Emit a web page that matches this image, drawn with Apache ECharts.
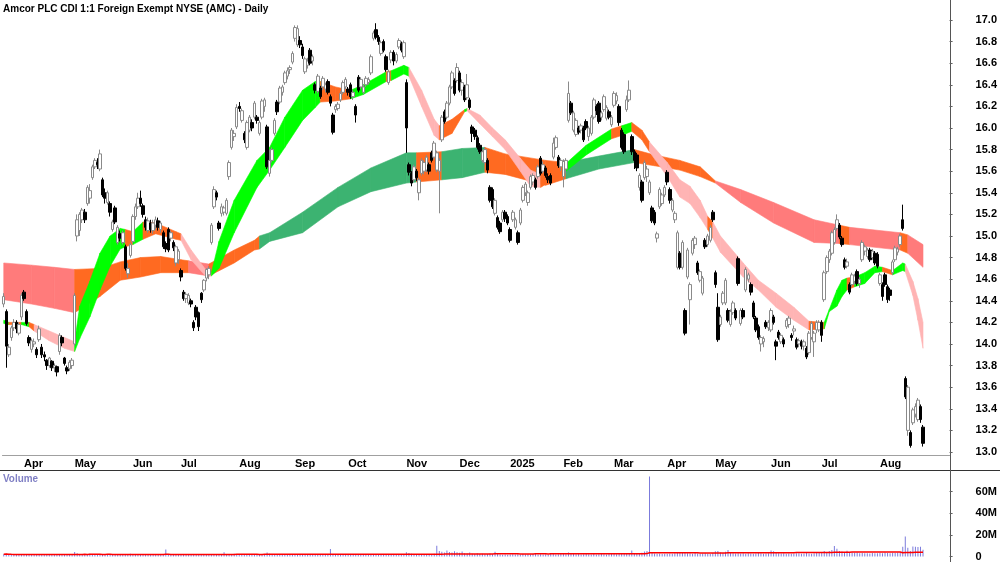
<!DOCTYPE html>
<html lang="en">
  <head>
    <meta charset="UTF-8" />
    <title>Amcor PLC CDI - Daily</title>
    <style>
      html,
      body {
        margin: 0;
        padding: 0;
        background: #fff;
      }
      #main {
        width: 1000px;
        height: 562px;
      }
    </style>
  </head>
  <body>
    <div id="main"></div>
    <script src="https://cdn.jsdelivr.net/npm/echarts@6.0.0/dist/echarts.min.js"></script>

    <script>
      // daily bars per month: [open, close, low, high]
      const mar24 = [
        [14.37, 14.44, 14.34, 14.47], [14.3, 13.98, 13.78, 14.32], [13.9, 13.97, 13.88, 14.0], [14.06, 14.15, 14.03, 14.17],
        [14.15, 14.2, 14.12, 14.23], [14.2, 14.14, 14.1, 14.22], [14.1, 14.18, 14.08, 14.2], [14.25, 14.45, 14.22, 14.47],
      ];
      const apr24 = [
        [14.48, 14.42, 14.4, 14.5], [14.3, 14.19, 14.17, 14.32], [14.06, 14.01, 13.98, 14.08], [13.95, 14.03, 13.92, 14.05],
        [14.0, 14.02, 13.97, 14.05], [13.95, 13.9, 13.87, 13.97], [14.04, 14.14, 14.02, 14.17], [13.97, 13.9, 13.87, 14.0],
        [13.9, 13.88, 13.84, 13.93], [13.85, 13.8, 13.76, 13.86], [13.8, 13.87, 13.78, 13.88], [13.84, 13.78, 13.75, 13.85],
        [13.78, 13.8, 13.74, 13.82], [13.79, 13.74, 13.7, 13.8], [13.93, 14.08, 13.9, 14.1], [14.06, 14.01, 13.98, 14.08],
        [13.87, 13.82, 13.8, 13.88], [13.78, 13.75, 13.72, 13.8], [13.77, 13.83, 13.75, 13.85], [13.8, 13.85, 13.77, 13.87],
      ];
      const may24 = [
        [14.0, 14.45, 13.98, 14.47], [15.0, 15.15, 14.95, 15.2], [15.05, 15.2, 15.0, 15.22], [15.15, 15.24, 15.12, 15.26],
        [15.22, 15.15, 15.12, 15.25], [15.3, 15.45, 15.28, 15.47], [15.35, 15.42, 15.3, 15.48], [15.54, 15.64, 15.52, 15.66],
        [15.64, 15.7, 15.62, 15.72], [15.68, 15.66, 15.62, 15.72], [15.62, 15.76, 15.6, 15.8], [15.52, 15.38, 15.36, 15.54],
        [15.4, 15.35, 15.3, 15.44], [15.31, 15.4, 15.29, 15.42], [15.3, 15.22, 15.18, 15.32], [15.06, 15.13, 15.04, 15.15],
        [15.26, 15.13, 15.11, 15.28], [14.94, 15.08, 14.92, 15.1], [15.02, 14.98, 14.95, 15.05], [14.94, 15.03, 14.92, 15.05],
        [14.9, 14.7, 14.68, 14.92], [14.65, 14.7, 14.61, 14.75], [14.82, 14.92, 14.8, 14.94],
      ];
      const jun24 = [
        [14.95, 15.18, 14.93, 15.2], [15.18, 15.27, 15.15, 15.3], [15.27, 15.35, 15.25, 15.4], [15.35, 15.3, 15.27, 15.42],
        [15.28, 15.2, 15.17, 15.3], [15.15, 15.08, 15.05, 15.18], [15.05, 15.14, 15.03, 15.17], [15.12, 15.06, 15.03, 15.15],
        [15.05, 15.12, 15.02, 15.15], [15.1, 15.15, 15.06, 15.18], [15.14, 15.08, 15.05, 15.17], [15.06, 15.12, 15.03, 15.14],
        [15.03, 14.9, 14.88, 15.05], [14.93, 14.88, 14.85, 14.95], [15.06, 14.87, 14.85, 15.08], [14.98, 15.03, 14.95, 15.05],
        [14.94, 14.89, 14.86, 14.96], [14.75, 14.9, 14.72, 14.92], [14.78, 14.86, 14.74, 14.88],
      ];
      const jul24 = [
        [14.68, 14.62, 14.58, 14.7], [14.48, 14.42, 14.4, 14.5], [14.42, 14.46, 14.38, 14.48], [14.38, 14.45, 14.36, 14.47],
        [14.4, 14.37, 14.34, 14.42], [14.2, 14.15, 14.12, 14.22], [14.34, 14.25, 14.22, 14.36], [14.29, 14.16, 14.12, 14.3],
        [14.47, 14.41, 14.38, 14.48], [14.5, 14.59, 14.48, 14.6], [14.61, 14.69, 14.58, 14.7], [14.64, 14.7, 14.6, 14.72],
        [14.94, 15.1, 14.92, 15.12], [15.27, 15.43, 15.25, 15.46], [15.4, 15.36, 15.33, 15.42], [15.12, 15.07, 15.05, 15.14],
        [15.21, 15.27, 15.18, 15.3], [15.22, 15.26, 15.19, 15.28], [15.21, 15.33, 15.19, 15.35], [15.55, 15.68, 15.52, 15.7],
        [15.82, 15.98, 15.8, 16.0], [15.92, 15.95, 15.88, 15.98], [16.01, 16.19, 15.99, 16.22],
      ];
      const aug24 = [
        [16.2, 16.18, 16.15, 16.24], [16.07, 16.16, 16.05, 16.18], [15.95, 15.89, 15.86, 15.97], [15.82, 16.05, 15.8, 16.07],
        [15.98, 16.1, 15.96, 16.12], [16.05, 16.0, 15.97, 16.08], [16.1, 16.23, 16.08, 16.25], [16.1, 16.07, 16.04, 16.12],
        [15.95, 16.05, 15.93, 16.07], [16.1, 16.25, 16.08, 16.27], [16.2, 16.26, 16.15, 16.28], [16.01, 15.64, 15.62, 16.03],
        [15.58, 15.7, 15.55, 15.8], [15.7, 15.8, 15.68, 15.82], [15.95, 16.07, 15.93, 16.09], [16.24, 16.15, 16.12, 16.26],
        [16.24, 16.37, 16.22, 16.39], [16.33, 16.38, 16.3, 16.4], [16.42, 16.51, 16.4, 16.53], [16.48, 16.53, 16.45, 16.56],
        [16.54, 16.56, 16.5, 16.58], [16.61, 16.69, 16.59, 16.71],
      ];
      const sep24 = [
        [16.83, 16.93, 16.8, 16.95], [16.77, 16.92, 16.75, 16.95], [16.81, 16.77, 16.74, 16.85], [16.75, 16.67, 16.64, 16.78],
        [16.52, 16.64, 16.5, 16.66], [16.58, 16.62, 16.55, 16.65], [16.72, 16.6, 16.58, 16.74], [16.62, 16.66, 16.58, 16.68],
        [16.4, 16.35, 16.32, 16.42], [16.34, 16.48, 16.32, 16.5], [16.37, 16.29, 16.27, 16.39], [16.38, 16.46, 16.35, 16.48],
        [16.36, 16.4, 16.33, 16.42], [16.43, 16.33, 16.31, 16.45], [16.29, 16.23, 16.2, 16.31], [16.12, 15.96, 15.94, 16.14],
        [16.17, 16.2, 16.14, 16.22], [16.18, 16.22, 16.16, 16.24], [16.26, 16.32, 16.24, 16.34], [16.33, 16.42, 16.31, 16.44],
        [16.38, 16.45, 16.36, 16.47],
      ];
      const oct24 = [
        [16.36, 16.33, 16.3, 16.38], [16.4, 16.29, 16.27, 16.42], [16.29, 16.33, 16.26, 16.35], [16.2, 16.12, 16.05, 16.22],
        [16.47, 16.35, 16.33, 16.49], [16.38, 16.45, 16.36, 16.47], [16.33, 16.38, 16.31, 16.4], [16.4, 16.46, 16.38, 16.48],
        [16.42, 16.45, 16.4, 16.47], [16.51, 16.66, 16.49, 16.68], [16.83, 16.88, 16.81, 16.9], [16.91, 16.84, 16.82, 16.97],
        [16.84, 16.8, 16.77, 16.86], [16.69, 16.79, 16.67, 16.81], [16.8, 16.72, 16.7, 16.82], [16.66, 16.54, 16.52, 16.68],
        [16.42, 16.52, 16.4, 16.54], [16.63, 16.7, 16.6, 16.72], [16.7, 16.62, 16.58, 16.72], [16.62, 16.68, 16.6, 16.7],
        [16.75, 16.81, 16.73, 16.83], [16.78, 16.72, 16.7, 16.8], [16.66, 16.79, 16.64, 16.81],
      ];
      const nov24 = [
        [16.42, 16.0, 15.77, 16.45], [15.66, 15.59, 15.56, 15.68], [15.58, 15.49, 15.46, 15.6], [15.52, 15.64, 15.5, 15.66],
        [15.6, 15.54, 15.51, 15.62], [15.4, 15.52, 15.33, 15.54], [15.58, 15.7, 15.56, 15.72], [15.6, 15.68, 15.57, 15.7],
        [15.61, 15.73, 15.59, 15.75], [15.66, 15.6, 15.57, 15.68], [15.77, 15.7, 15.68, 15.79], [15.73, 15.86, 15.71, 15.88],
        [15.61, 15.77, 15.59, 15.79], [15.6, 15.7, 15.21, 15.72], [15.89, 16.1, 15.87, 16.12], [16.15, 16.06, 16.04, 16.17],
        [16.1, 16.23, 16.08, 16.25], [16.23, 16.38, 16.21, 16.4], [16.38, 16.51, 16.36, 16.53], [16.44, 16.32, 16.3, 16.46],
        [16.44, 16.56, 16.42, 16.6],
      ];
      const dec24 = [
        [16.51, 16.35, 16.33, 16.53], [16.35, 16.42, 16.3, 16.45], [16.38, 16.26, 16.24, 16.4], [16.28, 16.4, 16.26, 16.5],
        [16.26, 16.19, 16.17, 16.28], [16.01, 15.95, 15.87, 16.03], [15.98, 15.92, 15.89, 16.0], [15.91, 15.82, 15.8, 15.93],
        [15.84, 15.78, 15.76, 15.86], [15.7, 15.78, 15.68, 15.8], [15.68, 15.8, 15.66, 15.82], [15.7, 15.61, 15.58, 15.72],
        [15.45, 15.33, 15.31, 15.47], [15.43, 15.27, 15.25, 15.45], [15.21, 15.33, 15.19, 15.35], [15.17, 15.08, 15.06, 15.19],
        [15.12, 15.04, 15.02, 15.14], [15.15, 15.22, 15.13, 15.24], [15.22, 15.16, 15.13, 15.24], [15.18, 15.12, 15.1, 15.2],
      ];
      const jan25 = [
        [15.06, 14.96, 14.94, 15.08], [15.15, 15.22, 15.13, 15.24], [15.08, 15.15, 15.06, 15.17], [15.03, 14.94, 14.92, 15.05],
        [15.12, 15.24, 15.1, 15.26], [15.33, 15.45, 15.31, 15.47], [15.4, 15.48, 15.37, 15.5], [15.31, 15.4, 15.28, 15.42],
        [15.45, 15.55, 15.43, 15.57], [15.5, 15.56, 15.47, 15.58], [15.52, 15.45, 15.43, 15.54], [15.55, 15.64, 15.53, 15.66],
        [15.72, 15.58, 15.56, 15.74], [15.6, 15.66, 15.58, 15.69], [15.63, 15.56, 15.54, 15.65], [15.55, 15.52, 15.49, 15.58],
        [15.56, 15.49, 15.47, 15.58], [15.73, 15.86, 15.71, 15.91], [15.82, 15.91, 15.8, 15.93], [15.73, 15.65, 15.63, 15.75],
        [15.64, 15.7, 15.6, 15.72],
      ];
      const feb25 = [
        [15.55, 15.69, 15.45, 15.71], [15.62, 15.7, 15.58, 15.72], [16.07, 16.32, 16.05, 16.43], [16.23, 16.14, 16.12, 16.25],
        [15.98, 16.14, 15.96, 16.16], [15.94, 16.07, 15.92, 16.09], [16.0, 15.96, 15.94, 16.02], [15.98, 16.02, 15.95, 16.04],
        [16.0, 15.89, 15.87, 16.02], [16.06, 16.0, 15.98, 16.08], [15.92, 16.0, 15.88, 16.02], [15.95, 16.1, 15.93, 16.12],
        [16.1, 16.26, 16.08, 16.28], [16.2, 16.16, 16.12, 16.22], [16.23, 16.06, 16.04, 16.25], [16.1, 16.14, 16.07, 16.16],
        [16.17, 16.29, 16.15, 16.31], [16.09, 16.19, 16.07, 16.21], [16.15, 16.1, 16.08, 16.17], [16.03, 16.1, 16.01, 16.12],
      ];
      const mar25 = [
        [16.21, 16.32, 16.19, 16.34], [16.25, 16.3, 16.22, 16.33], [16.2, 16.05, 16.02, 16.22], [15.98, 15.82, 15.8, 16.0],
        [15.94, 15.78, 15.76, 15.96], [16.17, 16.26, 16.15, 16.3], [16.26, 16.35, 16.24, 16.44], [15.92, 15.78, 15.75, 15.94],
        [15.78, 15.7, 15.62, 15.8], [15.75, 15.63, 15.6, 15.77], [15.45, 15.56, 15.42, 15.58], [15.5, 15.33, 15.31, 15.52],
        [15.54, 15.68, 15.52, 15.7], [15.55, 15.62, 15.5, 15.65], [15.4, 15.5, 15.38, 15.52], [15.26, 15.14, 15.12, 15.28],
        [15.22, 15.12, 15.1, 15.24], [14.98, 15.02, 14.94, 15.04], [15.27, 15.43, 15.25, 15.45], [15.3, 15.38, 15.28, 15.4],
        [15.38, 15.45, 15.36, 15.47],
      ];
      const apr25 = [
        [15.59, 15.5, 15.47, 15.61], [15.43, 15.33, 15.3, 15.45], [15.24, 15.33, 15.22, 15.35], [15.15, 15.21, 15.12, 15.23],
        [14.71, 15.03, 14.69, 15.05], [14.84, 14.71, 14.69, 14.86], [14.71, 14.94, 14.69, 14.96], [14.31, 14.1, 14.08, 14.33],
        [14.62, 14.87, 14.6, 14.89], [14.41, 14.55, 14.18, 14.57], [14.84, 14.96, 14.82, 14.98], [14.92, 14.98, 14.88, 15.0],
        [14.75, 14.66, 14.64, 14.77], [14.59, 14.67, 14.57, 14.69], [14.47, 14.61, 14.45, 14.63], [14.96, 14.9, 14.88, 14.98],
        [14.92, 15.0, 14.9, 15.02], [14.96, 15.08, 14.94, 15.1], [15.22, 15.15, 15.13, 15.24],
      ];
      const may25 = [
        [14.66, 14.55, 14.52, 14.68], [14.34, 14.04, 14.02, 14.47], [14.18, 14.25, 14.16, 14.27], [14.38, 14.47, 14.36, 14.49],
        [14.38, 14.59, 14.36, 14.61], [14.31, 14.22, 14.2, 14.33], [14.18, 14.3, 14.16, 14.32], [14.29, 14.38, 14.27, 14.4],
        [14.31, 14.24, 14.22, 14.33], [14.79, 14.56, 14.54, 14.81], [14.19, 14.31, 14.17, 14.33], [14.31, 14.25, 14.23, 14.33],
        [14.5, 14.69, 14.48, 14.71], [14.6, 14.64, 14.57, 14.66], [14.55, 14.48, 14.45, 14.57], [14.38, 14.25, 14.23, 14.4],
        [14.24, 14.13, 14.11, 14.26], [14.16, 14.06, 14.04, 14.18], [14.0, 14.06, 13.93, 14.08], [14.02, 14.05, 13.97, 14.07],
        [14.2, 14.16, 14.14, 14.22], [14.15, 14.2, 14.12, 14.22],
      ];
      const jun25 = [
        [14.13, 14.31, 14.11, 14.33], [14.25, 14.2, 14.18, 14.27], [14.02, 13.98, 13.85, 14.04], [14.11, 14.06, 14.04, 14.13],
        [14.02, 14.08, 14.0, 14.1], [14.04, 14.0, 13.97, 14.06], [14.16, 14.22, 14.14, 14.24], [14.18, 14.24, 14.15, 14.26],
        [14.08, 14.06, 14.03, 14.1], [14.12, 14.14, 14.08, 14.17], [14.04, 13.97, 13.95, 14.06], [14.0, 14.03, 13.97, 14.05],
        [14.02, 13.98, 13.95, 14.04], [13.98, 14.02, 13.94, 14.04], [13.96, 13.88, 13.86, 13.98], [13.92, 14.1, 13.9, 14.12],
        [14.06, 14.19, 14.04, 14.21], [14.02, 14.1, 13.88, 14.12], [14.13, 14.2, 14.1, 14.22], [14.13, 14.2, 14.11, 14.22],
      ];
      const jul25 = [
        [14.2, 14.08, 14.02, 14.22], [14.41, 14.66, 14.39, 14.68], [14.67, 14.8, 14.65, 14.82], [14.78, 14.86, 14.75, 14.88],
        [14.84, 15.03, 14.82, 15.05], [14.94, 15.06, 14.92, 15.08], [15.07, 15.15, 15.05, 15.2], [15.1, 14.99, 14.97, 15.12],
        [14.98, 14.92, 14.9, 15.0], [14.78, 14.71, 14.69, 14.8], [14.72, 14.76, 14.7, 14.79], [14.55, 14.48, 14.46, 14.57],
        [14.55, 14.64, 14.53, 14.66], [14.58, 14.63, 14.55, 14.65], [14.67, 14.56, 14.54, 14.69], [14.56, 14.6, 14.52, 14.62],
        [14.78, 14.94, 14.76, 14.96], [14.86, 14.9, 14.82, 14.92], [14.81, 14.87, 14.79, 14.89], [14.87, 14.78, 14.76, 14.89],
        [14.8, 14.86, 14.78, 14.88], [14.84, 14.75, 14.73, 14.86], [14.83, 14.72, 14.7, 14.85],
      ];
      const aug25 = [
        [14.56, 14.64, 14.54, 14.66], [14.55, 14.44, 14.4, 14.57], [14.64, 14.55, 14.53, 14.66], [14.53, 14.41, 14.38, 14.55],
        [14.5, 14.45, 14.4, 14.52], [14.66, 14.76, 14.64, 14.78], [14.78, 14.89, 14.76, 14.91], [14.85, 14.88, 14.82, 14.9],
        [14.92, 15.0, 14.9, 15.02], [15.15, 15.07, 15.05, 15.29], [13.68, 13.51, 13.49, 13.7], [13.2, 13.6, 13.15, 13.62],
        [13.18, 13.06, 13.04, 13.2], [13.27, 13.39, 13.25, 13.41], [13.35, 13.42, 13.32, 13.45], [13.3, 13.48, 13.28, 13.5],
        [13.42, 13.3, 13.27, 13.44], [13.23, 13.08, 13.05, 13.25],
      ];

      // daily volume in millions
      const volMar24 = [2.1, 2.6, 1.8, 1.5, 1.7, 1.9, 1.6, 2.2];
      const volApr24 = [1.8, 2.0, 1.6, 1.5, 1.9, 1.7, 2.3, 1.6, 1.4, 1.8, 2.0, 1.7, 1.5, 1.9, 2.2, 1.6, 1.8, 1.5, 1.7, 2.1];
      const volMay24 = [4.2, 3.1, 2.4, 2.0, 2.2, 1.8, 2.5, 2.1, 1.9, 1.7, 2.0, 1.6, 1.8, 2.3, 1.9, 1.5, 1.7, 2.0, 1.8, 1.6, 2.4, 1.9, 2.6];
      const volJun24 = [1.8, 1.6, 1.9, 1.5, 1.7, 1.4, 1.6, 1.8, 1.5, 1.7, 2.0, 1.6, 1.9, 6.4, 1.7, 1.5, 1.8, 1.6, 2.1];
      const volJul24 = [1.7, 1.9, 1.6, 1.8, 1.5, 2.0, 1.7, 1.6, 1.8, 2.2, 1.9, 2.4, 2.1, 1.8, 1.6, 1.9, 1.7, 3.9, 2.0, 1.8, 2.2, 2.5, 2.1];
      const volAug24 = [2.3, 1.9, 2.0, 1.8, 2.1, 1.7, 1.9, 2.2, 1.8, 2.0, 2.4, 3.6, 2.6, 2.2, 1.9, 2.1, 1.8, 1.6, 2.0, 1.7, 1.9, 2.3];
      const volSep24 = [2.0, 1.8, 1.7, 1.9, 1.6, 2.1, 1.8, 1.5, 1.7, 1.9, 1.6, 1.8, 2.0, 1.7, 7.0, 1.9, 1.6, 1.8, 1.5, 1.7, 2.0];
      const volOct24 = [1.8, 1.6, 1.9, 1.7, 1.5, 1.8, 1.6, 2.0, 1.7, 1.9, 1.6, 1.8, 1.5, 1.7, 2.1, 1.8, 1.6, 1.9, 1.7, 2.0, 1.8, 2.2, 2.4];
      const volNov24 = [4.0, 3.2, 2.6, 2.3, 2.0, 2.4, 2.1, 1.9, 2.2, 2.0, 2.3, 2.6, 10.0, 5.0, 4.4, 3.8, 5.5, 4.2, 3.6, 4.8, 3.9];
      const volDec24 = [3.4, 4.6, 3.1, 2.8, 3.6, 2.6, 2.4, 2.9, 2.2, 2.5, 2.1, 2.3, 2.8, 2.0, 4.5, 2.4, 1.9, 1.6, 1.8, 1.7];
      const volJan25 = [1.8, 2.0, 1.9, 2.1, 1.7, 2.3, 1.9, 2.0, 1.8, 2.2, 3.0, 1.9, 2.1, 1.8, 2.0, 1.7, 2.4, 2.2, 1.9, 2.0, 2.3];
      const volFeb25 = [2.4, 2.1, 3.6, 2.8, 2.3, 2.0, 2.2, 1.9, 2.1, 2.4, 2.0, 1.8, 2.2, 1.9, 2.1, 2.3, 2.0, 1.8, 2.2, 2.5];
      const volMar25 = [2.3, 2.1, 2.6, 2.4, 2.2, 2.5, 2.9, 5.5, 2.8, 3.0, 2.6, 3.4, 4.6, 5.0, 74.0, 3.2, 2.8, 2.5, 2.7, 2.4, 2.6];
      const volApr25 = [2.5, 2.8, 2.6, 3.0, 3.4, 3.8, 4.2, 3.6, 3.1, 2.9, 2.6, 3.2, 2.8, 2.5, 2.7, 3.0, 2.6, 2.4, 3.3];
      const volMay25 = [4.8, 5.2, 3.6, 3.2, 4.4, 6.0, 3.4, 3.0, 2.8, 3.1, 2.7, 2.9, 2.6, 3.0, 2.8, 2.5, 2.7, 3.2, 2.9, 2.6, 2.8, 3.0];
      const volJun25 = [5.6, 4.8, 3.2, 2.9, 2.7, 3.0, 2.6, 2.8, 2.5, 2.7, 2.9, 3.1, 2.6, 2.8, 3.4, 2.7, 2.5, 2.9, 3.6, 3.2];
      const volJul25 = [3.8, 5.0, 4.2, 5.2, 6.1, 9.6, 7.2, 5.0, 4.6, 4.0, 5.4, 4.2, 3.8, 3.4, 3.6, 3.0, 3.3, 2.9, 3.1, 2.8, 3.2, 3.0, 2.9];
      const volAug25 = [3.4, 3.1, 3.6, 3.2, 3.0, 3.5, 3.3, 3.8, 4.0, 9.0, 18.6, 8.2, 5.0, 9.2, 9.0, 8.8, 9.1, 6.2];

      // trend ribbons: bar index, upper edge, lower edge,
      // and state of each stretch (U rising, M mixed, D falling)
      const fastX = [
        0, 2, 7, 10, 12, 18, 24, 28, 30, 34, 38, 42, 46, 48, 51, 55, 60, 68, 70, 74,
        80, 82, 85, 91, 100, 105, 111, 118, 123, 125, 131, 137, 142, 151, 153, 158, 160, 165, 170, 172,
        177, 182, 183, 188, 193, 198, 204, 208, 212, 221, 230, 240, 244, 248, 252, 255, 262, 267, 271, 275,
        278, 280, 283, 292, 298, 305, 312, 318, 324, 326, 329, 331, 333, 336, 340, 344, 347, 351, 355, 356,
        359, 361, 363,
      ];
      const fastHi = [
        14.22, 14.2, 14.2, 14.2, 14.18, 14.12, 14.06, 14.02, 14.35, 14.58, 14.84, 15.0, 15.07, 15.06, 15.04, 15.13, 15.12, 15.04, 15.02, 14.87,
        14.68, 14.66, 14.95, 15.33, 15.7, 15.82, 16.1, 16.35, 16.43, 16.43, 16.38, 16.35, 16.4, 16.52, 16.53, 16.58, 16.56, 16.35, 16.08, 16.02,
        16.08, 16.17, 16.18, 16.12, 16.0, 15.89, 15.72, 15.61, 15.57, 15.65, 15.84, 15.99, 16.02, 16.05, 15.98, 15.87, 15.68, 15.52, 15.46, 15.33,
        15.18, 15.13, 15.0, 14.75, 14.59, 14.47, 14.34, 14.21, 14.2, 14.32, 14.5, 14.59, 14.61, 14.62, 14.66, 14.72, 14.71, 14.68, 14.75, 14.74,
        14.58, 14.42, 14.2,
      ];
      const fastLo = [
        14.19, 14.18, 14.18, 14.16, 14.12, 14.03, 13.96, 13.93, 14.05, 14.25, 14.5, 14.72, 14.88, 14.9, 14.92, 14.97, 15.02, 14.97, 14.96, 14.78,
        14.62, 14.63, 14.7, 15.03, 15.45, 15.61, 15.82, 16.07, 16.19, 16.24, 16.25, 16.27, 16.31, 16.43, 16.44, 16.5, 16.48, 16.2, 15.93, 15.89,
        15.95, 16.15, 16.16, 16.04, 15.92, 15.8, 15.6, 15.46, 15.45, 15.58, 15.75, 15.9, 15.93, 15.97, 15.89, 15.78, 15.55, 15.36, 15.3, 15.17,
        15.06, 14.98, 14.85, 14.62, 14.5, 14.34, 14.22, 14.13, 14.14, 14.3, 14.35, 14.44, 14.5, 14.53, 14.56, 14.66, 14.67, 14.64, 14.68, 14.67,
        14.45, 14.22, 13.96,
      ];
      const fastTrend = "UMUMDDD UUUUUU MUMMM DDD UUUUUUUU MM UU M UU DDD MM U DDDDDD M UU M U MM DDDDD M DDDDDD M UUUU M UUU M UU DDD"
        .replace(/ /g, "")
        .split("");

      const slowX = [
        0, 11, 20, 28, 38, 46, 54, 62, 70, 73, 81, 91, 99, 101, 105, 118, 132, 145, 159, 163,
        173, 181, 190, 198, 214, 222, 235, 249, 257, 267, 275, 281, 291, 304, 320, 330, 334, 354, 357, 363,
      ];
      const slowHi = [
        14.75, 14.73, 14.71, 14.69, 14.7, 14.76, 14.8, 14.81, 14.78, 14.77, 14.74, 14.87, 14.96, 15.0, 15.03, 15.22, 15.45, 15.63, 15.77, 15.77,
        15.78, 15.81, 15.82, 15.76, 15.7, 15.68, 15.74, 15.8, 15.75, 15.7, 15.64, 15.51, 15.43, 15.31, 15.15, 15.1, 15.08, 15.03, 15.01, 14.92,
      ];
      const slowLo = [
        14.41, 14.37, 14.33, 14.29, 14.44, 14.59, 14.62, 14.66, 14.66, 14.66, 14.63, 14.75, 14.87, 14.88, 14.95, 15.03, 15.27, 15.41, 15.49, 15.5,
        15.52, 15.54, 15.59, 15.57, 15.47, 15.53, 15.62, 15.68, 15.65, 15.61, 15.55, 15.49, 15.31, 15.12, 14.94, 14.93, 14.92, 14.87, 14.84, 14.71,
      ];
      const slowTrend = "DDD MMMMMM D MMM UUUUUU M UU MMM UU MMMM DDDD M D M D".replace(/ /g, "").split("");

      const priceTicks = [13.0, 13.2, 13.4, 13.6, 13.8, 14.0, 14.2, 14.4, 14.6, 14.8, 15.0, 15.2, 15.4, 15.6, 15.8, 16.0, 16.2, 16.4, 16.6, 16.8, 17.0];
      const volTicks = [0, 20, 40, 60];
      const monthNames = ["Jan", "Feb", "Mar", "Apr", "May", "Jun", "Jul", "Aug", "Sep", "Oct", "Nov", "Dec"];
      const holidays = [
        "2024-03-29", "2024-04-01", "2024-04-25", "2024-06-10", "2024-12-25", "2024-12-26",
        "2025-01-01", "2025-01-27", "2025-04-18", "2025-04-21", "2025-04-25", "2025-06-09",
      ];

      const candles = [].concat(mar24, apr24, may24, jun24, jul24, aug24, sep24, oct24, nov24, dec24,
        jan25, feb25, mar25, apr25, may25, jun25, jul25, aug25);
      const volumes = [].concat(volMar24, volApr24, volMay24, volJun24, volJul24, volAug24, volSep24, volOct24, volNov24,
        volDec24, volJan25, volFeb25, volMar25, volApr25, volMay25, volJun25, volJul25, volAug25);

      // ASX trading days, plus a few empty days on the right of the last bar
      const totalSlots = 374;
      const dates = [];
      const day = new Date(Date.UTC(2024, 2, 19));
      while (dates.length < totalSlots) {
        const s = day.toISOString().slice(0, 10);
        const wd = day.getUTCDay();
        if (wd !== 0 && wd !== 6 && holidays.indexOf(s) < 0) dates.push(s);
        day.setUTCDate(day.getUTCDate() + 1);
      }
      const isMonthStart = (i) =>
        i > 0 && i < candles.length && dates[i].slice(5, 7) !== dates[i - 1].slice(5, 7);

      // moving average of volume for the red line
      const avgLen = 100;
      const volAvg = volumes.map((v, i) => {
        const from = Math.max(0, i - avgLen + 1);
        const win = volumes.slice(from, i + 1);
        return +(win.reduce((a, b) => a + b, 0) / win.length).toFixed(2);
      });

      const ribbon = (xs, hi, lo, trend, colors) =>
        xs.slice(0, -1).map((x, k) => ({
          value: [x, hi[k], lo[k], xs[k + 1], hi[k + 1], lo[k + 1]],
          itemStyle: { color: colors[trend[k]] },
        }));

      const renderBand = (params, api) => {
        const p1 = api.coord([api.value(0), api.value(1)]);
        const p2 = api.coord([api.value(3), api.value(4)]);
        const p3 = api.coord([api.value(3), api.value(5)]);
        const p4 = api.coord([api.value(0), api.value(2)]);
        const c = api.visual("color");
        return {
          type: "polygon",
          shape: { points: [p1, p2, p3, p4] },
          style: { fill: c, stroke: c, lineWidth: 0.6 },
        };
      };

      const font = "Liberation Sans, Arial, sans-serif";
      const gridLeft = 2.47;
      const gridWidth = 947.33;

      const myChart = echarts.init(document.getElementById("main"));

      myChart.setOption({
        animation: false,
        backgroundColor: "#fff",
        grid: [
          { left: gridLeft, width: gridWidth, top: 0, height: 455 },
          { left: gridLeft, width: gridWidth, top: 470, height: 87 },
        ],
        xAxis: [
          {
            type: "category",
            gridIndex: 0,
            data: dates,
            boundaryGap: true,
            axisLine: { lineStyle: { color: "#a0a0a0", width: 1 } },
            axisTick: { interval: (i) => isMonthStart(i), length: 3, lineStyle: { color: "#808080" } },
            axisLabel: {
              interval: (i) => isMonthStart(i),
              formatter: (v) => {
                const m = +v.slice(5, 7);
                return m === 1 ? v.slice(0, 4) : monthNames[m - 1];
              },
              align: "left",
              margin: 3,
              color: "#000",
              fontSize: 11,
              fontWeight: "bold",
              fontFamily: font,
            },
            splitLine: { show: false },
          },
          { type: "category", gridIndex: 1, data: dates, boundaryGap: true, show: false },
        ],
        yAxis: [
          {
            type: "value",
            gridIndex: 0,
            position: "right",
            min: 12.972,
            max: 17.185,
            axisLine: { show: false },
            axisTick: { show: true, length: 3, customValues: priceTicks, lineStyle: { color: "#606060" } },
            axisLabel: {
              customValues: priceTicks,
              formatter: (v) => v.toFixed(1),
              margin: 26,
              color: "#000",
              fontSize: 11,
              fontWeight: "bold",
              fontFamily: font,
            },
            splitLine: { show: false },
          },
          {
            type: "value",
            gridIndex: 1,
            position: "right",
            min: 0,
            max: 80,
            axisLine: { show: false },
            axisTick: { show: true, length: 3, customValues: volTicks, lineStyle: { color: "#606060" } },
            axisLabel: {
              customValues: volTicks,
              formatter: (v) => (v === 0 ? "0" : v + "M"),
              margin: 26,
              color: "#000",
              fontSize: 11,
              fontWeight: "bold",
              fontFamily: font,
            },
            splitLine: { show: false },
          },
        ],
        series: [
          {
            type: "custom",
            name: "slow",
            xAxisIndex: 0,
            yAxisIndex: 0,
            renderItem: renderBand,
            encode: { x: [0, 3], y: [1, 2, 4, 5] },
            data: ribbon(slowX, slowHi, slowLo, slowTrend, { U: "#3cb371", M: "#ff6a21", D: "#ff7b7b" }),
            z: 1,
          },
          {
            type: "custom",
            name: "fast",
            xAxisIndex: 0,
            yAxisIndex: 0,
            renderItem: renderBand,
            encode: { x: [0, 3], y: [1, 2, 4, 5] },
            data: ribbon(fastX, fastHi, fastLo, fastTrend, { U: "#00ff00", M: "#ff6a21", D: "#ffb4b4" }),
            z: 2,
          },
          {
            type: "candlestick",
            name: "AMC",
            xAxisIndex: 0,
            yAxisIndex: 0,
            data: candles,
            barWidth: 3,
            itemStyle: {
              color: "#ffffff",
              color0: "#000000",
              borderColor: "#8a8a8a",
              borderColor0: "#000000",
              borderWidth: 1,
            },
            z: 3,
          },
          {
            type: "bar",
            name: "Volume",
            xAxisIndex: 1,
            yAxisIndex: 1,
            data: volumes,
            barWidth: 1,
            itemStyle: { color: "#7b7bdc" },
          },
          {
            type: "line",
            name: "Volume avg",
            xAxisIndex: 1,
            yAxisIndex: 1,
            data: volAvg,
            showSymbol: false,
            lineStyle: { color: "#ff0000", width: 1.5 },
            z: 4,
          },
        ],
        graphic: [
          {
            type: "text",
            x: 3,
            y: 3,
            scaleX: 0.91,
            style: {
              text: "Amcor PLC CDI 1:1 Foreign Exempt NYSE (AMC) - Daily",
              font: "bold 11px " + font,
              fill: "#000",
            },
          },
          {
            type: "text",
            x: 3,
            y: 473,
            scaleX: 0.9,
            style: { text: "Volume", font: "bold 11px " + font, fill: "#7f7fc4" },
          },
          {
            type: "line",
            shape: { x1: 0, y1: 470.5, x2: 1000, y2: 470.5 },
            style: { stroke: "#333", lineWidth: 1 },
          },
          {
            type: "line",
            shape: { x1: 950.5, y1: 0, x2: 950.5, y2: 562 },
            style: { stroke: "#555", lineWidth: 1 },
          },
        ],
      });
    </script>
  </body>
</html>
